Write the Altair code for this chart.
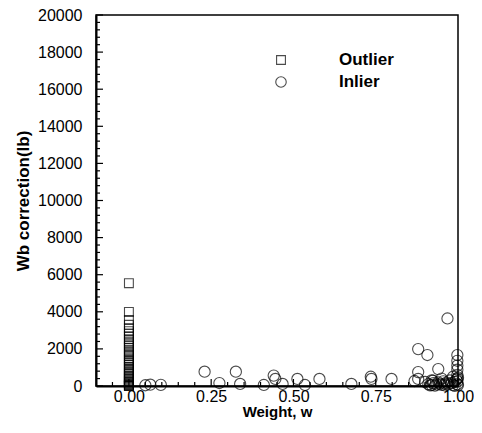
import altair as alt
import pandas as pd

# ---- data ----
outlier_w = 0.0
outlier_vals = [5540, 3990, 3560, 3300, 3120, 2960, 2820, 2680, 2520, 2400, 2280,
                2160, 2060, 1920, 1820, 1720, 1620, 1500, 1400, 1320, 1220, 1130,
                1020, 940, 860, 780, 700, 630, 560, 490, 420, 360, 300, 240, 190,
                140, 100, 60, 30, 10, 0]

inlier_w = [0.05, 0.065, 0.097, 0.23, 0.275, 0.325, 0.338, 0.41, 0.44, 0.445,
            0.467, 0.512, 0.535, 0.579, 0.676, 0.735, 0.737, 0.798, 0.868, 0.879,
            0.879, 0.879, 0.907, 0.968, 0.94, 0.998, 0.998, 0.998, 0.998, 0.998,
            0.998, 0.998, 0.998, 0.91, 0.92, 0.925, 0.93, 0.935, 0.94, 0.945,
            0.95, 0.955, 0.96, 0.965, 0.97, 0.975, 0.98, 0.985, 0.99, 0.995,
            1.0, 1.0, 0.92, 0.95, 0.9, 0.985, 0.924, 0.915, 0.96, 0.99]
inlier_vals = [40, 70, 60, 770, 160, 770, 110, 55, 560, 380,
               110, 380, 55, 380, 110, 500, 380, 380, 270, 1990,
               750, 380, 1670, 3640, 910, 1670, 1360, 1100, 880, 600,
               400, 250, 100, 100, 50, 150, 20, 80, 200, 120,
               60, 250, 30, 180, 90, 300, 150, 50, 220, 350,
               450, 50, 300, 400, 220, 500, 285, 30, 120, 10]

legend_labels = ["Outlier", "Inlier"]
legend_shapes = ["square", "circle"]

y_major = [0, 2000, 4000, 6000, 8000, 10000, 12000, 14000, 16000, 18000, 20000]
y_minor = [v for v in range(0, 20001, 400) if v % 2000 != 0]
x_major = [0.0, 0.25, 0.5, 0.75, 1.0]
x_minor = [-0.05, 0.05, 0.1, 0.15, 0.2, 0.3, 0.35, 0.4, 0.45, 0.55, 0.6, 0.65,
           0.7, 0.8, 0.85, 0.9, 0.95]

groups = ["Outlier"] * len(outlier_vals) + ["Inlier"] * len(inlier_vals)
df = pd.DataFrame({
    "w": [outlier_w] * len(outlier_vals) + inlier_w,
    "val": outlier_vals + inlier_vals,
    "group": groups,
    "kind": groups,
})

W, H = 362, 371
FONT = "Liberation Sans"

xs = alt.Scale(domain=[-0.1, 1.0], nice=False, zero=False)
ys = alt.Scale(domain=[0, 20000], nice=False)

xaxis = alt.Axis(title="Weight, w", values=x_major, format=".2f", ticks=False,
                 grid=False, labelFontSize=16, labelFont=FONT, labelColor="black",
                 labelPadding=2, titleFontSize=15, titleFont=FONT,
                 titleFontWeight="bold", titleColor="black", titlePadding=0,
                 domainColor="black", domainWidth=2, labelFlush=False)
yaxis = alt.Axis(title="Wb correction(lb)", values=y_major, format="d", ticks=False,
                 grid=False, labelFontSize=16, labelFont=FONT, labelColor="black",
                 labelPadding=14, titleFontSize=17, titleFont=FONT,
                 titleFontWeight="bold", titleColor="black", titlePadding=5,
                 domainColor="black", domainWidth=2, labelFlush=False)

points = alt.Chart(df).mark_point(filled=False, strokeWidth=1.1).encode(
    x=alt.X("w:Q", scale=xs, axis=xaxis),
    y=alt.Y("val:Q", scale=ys, axis=yaxis),
    shape=alt.Shape("group:N",
                    scale=alt.Scale(domain=legend_labels, range=legend_shapes),
                    legend=None),
    size=alt.Size("kind:N",
                  scale=alt.Scale(domain=legend_labels, range=[78, 125]),
                  legend=None),
    color=alt.value("black"),
)

ymaj = alt.Chart(pd.DataFrame({"v": y_major})).mark_rule(color="black", strokeWidth=1.2).encode(
    y=alt.Y("v:Q", scale=ys, axis=yaxis), x=alt.value(0), x2=alt.value(7))
ymin = alt.Chart(pd.DataFrame({"v": y_minor})).mark_rule(color="black", strokeWidth=1.2).encode(
    y=alt.Y("v:Q", scale=ys, axis=yaxis), x=alt.value(0), x2=alt.value(4))
xmaj = alt.Chart(pd.DataFrame({"v": x_major})).mark_rule(color="black", strokeWidth=1.2).encode(
    x=alt.X("v:Q", scale=xs, axis=xaxis), y=alt.value(H), y2=alt.value(H - 7))
xmin = alt.Chart(pd.DataFrame({"v": x_minor})).mark_rule(color="black", strokeWidth=1.2).encode(
    x=alt.X("v:Q", scale=xs, axis=xaxis), y=alt.value(H), y2=alt.value(H - 4))

# legend (drawn as marks, positioned in the plot's pixel space)
leg_layers = []
for i, (lab, shp) in enumerate(zip(legend_labels, legend_shapes)):
    ldf = pd.DataFrame({"label": [lab]})
    yy = 45 + 22 * i
    leg_layers.append(
        alt.Chart(ldf).mark_point(filled=False, strokeWidth=1.1, color="black",
                                  shape=shp, size=78 if shp == "square" else 110).encode(
            x=alt.value(185), y=alt.value(yy)))
    leg_layers.append(
        alt.Chart(ldf).mark_text(align="left", baseline="middle", font=FONT,
                                 fontSize=17, fontWeight="bold", color="black").encode(
            x=alt.value(243), y=alt.value(yy), text="label:N"))

chart = alt.layer(ymin, ymaj, xmin, xmaj, points, *leg_layers).properties(
    width=W, height=H,
    background="white",
    autosize=alt.AutoSizeParams(type="none"),
    padding={"left": 88, "top": 7, "right": 16, "bottom": 34},
).configure_view(stroke="black", strokeWidth=1.5)

chart.save("out.html", embed_options={"renderer": "svg", "actions": False})
